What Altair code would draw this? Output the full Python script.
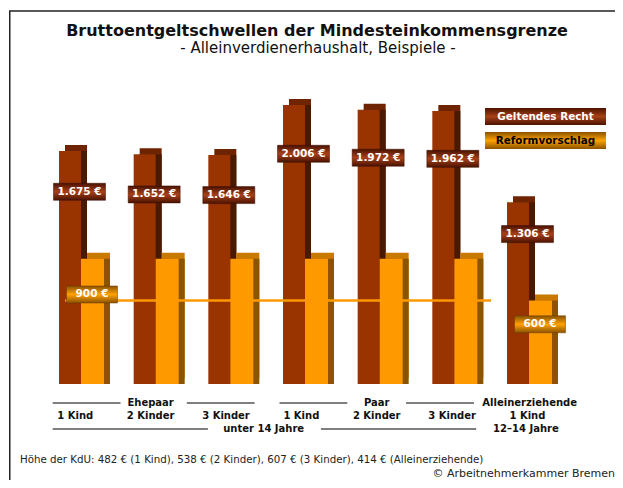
import altair as alt
import pandas as pd

# ---------------- data ----------------
groups = ["Ehepaar 1 Kind", "Ehepaar 2 Kinder", "Ehepaar 3 Kinder",
          "Paar 1 Kind", "Paar 2 Kinder", "Paar 3 Kinder",
          "Alleinerziehende 1 Kind"]
series = ["Geltendes Recht", "Reformvorschlag"]
geltend = [1675, 1652, 1646, 2006, 1972, 1962, 1306]
reform = [900, 900, 900, 900, 900, 900, 600]

kids_labels = ["1 Kind", "2 Kinder", "3 Kinder", "1 Kind", "2 Kinder", "3 Kinder", "1 Kind"]
household_labels = ["Ehepaar", "Paar", "Alleinerziehende"]
household_slots = [2, 5, 7.03]
age_labels = ["unter 14 Jahre", "12\u201314 Jahre"]
age_slots = [3.5, 6.98]
# bracket lines (in label-slot units)
bracket_row1_start = [0.70, 2.48, 3.71, 5.39]
bracket_row1_end = [1.60, 3.38, 4.61, 6.29]
bracket_row3_start = [0.70, 4.26]
bracket_row3_end = [2.76, 6.32]

title = "Bruttoentgeltschwellen der Mindesteinkommensgrenze"
subtitle = "- Alleinverdienerhaushalt, Beispiele -"
footer = "H\u00f6he der KdU: 482 \u20ac (1 Kind), 538 \u20ac (2 Kinder), 607 \u20ac (3 Kinder), 414 \u20ac (Alleinerziehende)"
copyright = "\u00a9 Arbeitnehmerkammer Bremen"


def euro(v):
    return f"{v:,}".replace(",", ".") + " \u20ac"


bars = pd.DataFrame({
    "group": groups * 2,
    "series": [series[0]] * 7 + [series[1]] * 7,
    "value": geltend + reform,
})
red_df = bars[bars.series == series[0]].copy()
red_df["label"] = [euro(v) for v in geltend]
org_df = pd.DataFrame({"group": [groups[0], groups[6]],
                       "value": [reform[0], reform[6]],
                       "label": [euro(reform[0]), euro(reform[6])]})

kids_df = pd.DataFrame({"slot": list(range(1, 8)), "text": kids_labels})
house_df = pd.DataFrame({"slot": household_slots, "text": household_labels})
age_df = pd.DataFrame({"slot": age_slots, "text": age_labels})
br1_df = pd.DataFrame({"s1": bracket_row1_start, "s2": bracket_row1_end})
br3_df = pd.DataFrame({"s1": bracket_row3_start, "s2": bracket_row3_end})
line_df = pd.DataFrame({"value": [reform[6]]})

# ---------------- styles ----------------
FONT = "DejaVu Sans"
W, H = 607, 472
RED, RED_TOP, RED_SIDE = "#993300", "#6e2400", "#4a1a00"
ORG, ORG_TOP, ORG_SIDE = "#ff9900", "#c97800", "#8a5400"

red_grad = alt.LinearGradient(
    gradient="linear", x1=0, y1=0, x2=0, y2=1,
    stops=[alt.GradientStop(color="#4a1300", offset=0),
           alt.GradientStop(color="#a8401a", offset=0.5),
           alt.GradientStop(color="#4a1300", offset=1)])
org_grad = alt.LinearGradient(
    gradient="linear", x1=0, y1=0, x2=0, y2=1,
    stops=[alt.GradientStop(color="#8a5200", offset=0),
           alt.GradientStop(color="#ffa200", offset=0.5),
           alt.GradientStop(color="#8a5200", offset=1)])

xs = alt.Scale(domain=groups, range=[34.67, 557.33], paddingInner=0.411, paddingOuter=0.2055)
ys = alt.Scale(domain=[0, 2703], range=[376, 0], nice=False, zero=False)
X = alt.X("group:N", scale=xs, axis=None)
Y = alt.Y("value:Q", scale=ys, axis=None)
Y0 = alt.Y2(datum=0)

base_red = alt.Chart(red_df)
base_org = alt.Chart(bars[bars.series == series[1]])

D = 6
red_top = base_red.mark_bar(width=22, xOffset=-11 + D, yOffset=-D, y2Offset=-D, color=RED_TOP).encode(x=X, y=Y, y2=Y0)
red_side = base_red.mark_bar(width=22, xOffset=-11 + D, color=RED_SIDE).encode(x=X, y=Y, y2=Y0)
org_top = base_org.mark_bar(width=23, xOffset=11.5 + D, yOffset=-D, y2Offset=-D, color=ORG_TOP).encode(x=X, y=Y, y2=Y0)
org_side = base_org.mark_bar(width=23, xOffset=11.5 + D, color=ORG_SIDE).encode(x=X, y=Y, y2=Y0)
red_front = base_red.mark_bar(width=22, xOffset=-11, color=RED).encode(x=X, y=Y, y2=Y0)
org_front = base_org.mark_bar(width=23, xOffset=11.5, color=ORG).encode(x=X, y=Y, y2=Y0)

ref_line = alt.Chart(line_df).mark_rule(color=ORG, strokeWidth=2.5).encode(
    y=alt.Y("value:Q", scale=ys, axis=None), x=alt.value(56), x2=alt.value(482))

red_lab = base_red.transform_calculate(ly="datum.value * 0.825")
red_box = red_lab.mark_bar(width=52, xOffset=-1.5, yOffset=-8.5, y2Offset=8.5, fill=red_grad,
                           stroke="#3a0f00", strokeWidth=0.5).encode(
    x=X, y=alt.Y("ly:Q", scale=ys, axis=None), y2="ly:Q")
red_txt = red_lab.mark_text(dx=-1.5, color="white", font=FONT, fontWeight="bold", fontSize=10.5,
                            baseline="middle").encode(
    x=X, y=alt.Y("ly:Q", scale=ys, axis=None), text="label:N")

org_lab = alt.Chart(org_df).transform_calculate(ly="datum.value * 0.715")
org_box = org_lab.mark_bar(width=51, xOffset=11, yOffset=-8.5, y2Offset=8.5, fill=org_grad,
                           stroke="#6a3a00", strokeWidth=0.5).encode(
    x=X, y=alt.Y("ly:Q", scale=ys, axis=None), y2="ly:Q")
org_txt = org_lab.mark_text(dx=11, color="white", font=FONT, fontWeight="bold", fontSize=10.5,
                            baseline="middle").encode(
    x=X, y=alt.Y("ly:Q", scale=ys, axis=None), text="label:N")

# category labels below the bars (own slot scale)
SX = alt.Scale(domain=[0.5, 7.5], range=[28.6, 556.1], nice=False, zero=False)
lab_style = dict(font=FONT, fontWeight="bold", fontSize=10, color="#111111", baseline="middle")
kids = alt.Chart(kids_df).mark_text(**lab_style).encode(
    x=alt.X("slot:Q", scale=SX, axis=None), y=alt.value(408), text="text:N")
house = alt.Chart(house_df).mark_text(**lab_style).encode(
    x=alt.X("slot:Q", scale=SX, axis=None), y=alt.value(395), text="text:N")
age = alt.Chart(age_df).mark_text(**lab_style).encode(
    x=alt.X("slot:Q", scale=SX, axis=None), y=alt.value(421), text="text:N")
br1 = alt.Chart(br1_df).mark_rule(color="#555555", strokeWidth=1.5).encode(
    x=alt.X("s1:Q", scale=SX, axis=None), x2="s2:Q", y=alt.value(395))
br3 = alt.Chart(br3_df).mark_rule(color="#555555", strokeWidth=1.5).encode(
    x=alt.X("s1:Q", scale=SX, axis=None), x2="s2:Q", y=alt.value(421))

# legend (drawn)
leg_df = pd.DataFrame({"series": series})
leg_box1 = alt.Chart(leg_df.iloc[[0]]).mark_rect(fill=red_grad).encode(
    x=alt.value(476), x2=alt.value(597), y=alt.value(100), y2=alt.value(117))
leg_box2 = alt.Chart(leg_df.iloc[[1]]).mark_rect(fill=org_grad).encode(
    x=alt.value(476), x2=alt.value(597), y=alt.value(124), y2=alt.value(141))
leg_txt1 = alt.Chart(leg_df.iloc[[0]]).mark_text(font=FONT, fontWeight="bold", fontSize=10.4,
                                                 color="white", baseline="middle").encode(
    x=alt.value(536.5), y=alt.value(108.5), text="series:N")
leg_txt2 = alt.Chart(leg_df.iloc[[1]]).mark_text(font=FONT, fontWeight="bold", fontSize=10.4,
                                                 color="black", baseline="middle").encode(
    x=alt.value(536.5), y=alt.value(132.5), text="series:N")

# titles and notes
txt_df = pd.DataFrame({"t": [title, subtitle, footer, copyright]})
t_title = alt.Chart(txt_df.iloc[[0]]).mark_text(font=FONT, fontWeight="bold", fontSize=16,
                                                color="#111111", baseline="alphabetic").encode(
    x=alt.value(308), y=alt.value(28), text="t:N")
t_sub = alt.Chart(txt_df.iloc[[1]]).mark_text(font=FONT, fontSize=15, color="#111111",
                                              baseline="alphabetic").encode(
    x=alt.value(309), y=alt.value(45), text="t:N")
t_foot = alt.Chart(txt_df.iloc[[2]]).mark_text(font=FONT, fontSize=10.25, color="#222222",
                                               baseline="middle", align="left").encode(
    x=alt.value(11), y=alt.value(452), text="t:N")
t_copy = alt.Chart(txt_df.iloc[[3]]).mark_text(font=FONT, fontSize=11, color="#222222",
                                               baseline="middle", align="right").encode(
    x=alt.value(606), y=alt.value(466), text="t:N")

# frame
frame_top = alt.Chart(line_df).mark_rule(color="#222222", strokeWidth=1.5).encode(
    x=alt.value(0), x2=alt.value(W), y=alt.value(3))
frame_left = alt.Chart(line_df).mark_rule(color="#222222", strokeWidth=1.5).encode(
    x=alt.value(0.75), y=alt.value(3), y2=alt.value(H))

chart = alt.layer(
    frame_top, frame_left,
    red_top, red_side, org_top, org_side, red_front, org_front,
    ref_line, red_box, red_txt, org_box, org_txt,
    br1, br3, kids, house, age,
    leg_box1, leg_box2, leg_txt1, leg_txt2,
    t_title, t_sub, t_foot, t_copy,
).resolve_scale(x="independent").properties(
    width=W, height=H, padding=0,
    autosize=alt.AutoSizeParams(type="fit", contains="padding"),
).configure_view(stroke=None)

chart.save("out.html", embed_options={"renderer": "svg", "actions": False})
